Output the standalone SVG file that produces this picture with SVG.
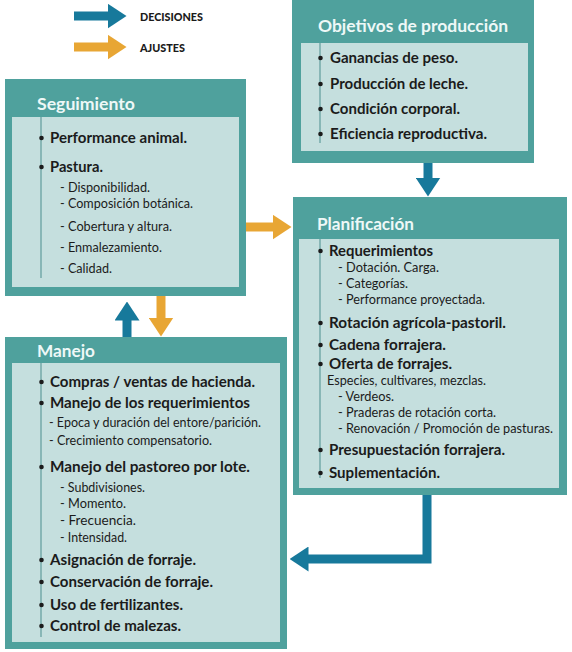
<svg xmlns="http://www.w3.org/2000/svg" width="572" height="652" viewBox="0 0 572 652">
<style>
.outer{fill:#4fa19d}
.inner{fill:#c5dfde}
.vl{stroke:#5f9c9b;stroke-width:1.2}
.hd{font-family:Lato,"Open Sans","Liberation Sans",sans-serif;font-weight:700;font-size:17.5px;fill:#eef8f7}
.b{font-family:Lato,"Open Sans","Liberation Sans",sans-serif;font-weight:700;font-size:14.8px;fill:#1b1b1b}
.s{font-family:Lato,"Open Sans","Liberation Sans",sans-serif;font-weight:400;font-size:13.2px;fill:#1b1b1b}
.lg{font-family:Lato,"Open Sans","Liberation Sans",sans-serif;font-weight:900;font-size:10.5px;fill:#1b1b1b}
.dot{fill:#1b1b1b}
.blue{stroke:#17799b;stroke-width:9;fill:none}
.orange{stroke:#e8a634;stroke-width:9;fill:none}
</style>
<defs>
<marker id="hb" markerUnits="userSpaceOnUse" markerWidth="19" markerHeight="25" viewBox="0 0 19 25" refX="0.5" refY="12.5" orient="auto"><path d="M0,0 L19,12.5 L0,25 z" fill="#17799b"/></marker>
<marker id="ho" markerUnits="userSpaceOnUse" markerWidth="19" markerHeight="25" viewBox="0 0 19 25" refX="0.5" refY="12.5" orient="auto"><path d="M0,0 L19,12.5 L0,25 z" fill="#e8a634"/></marker>
</defs>

<g id="legend">
<line class="blue" x1="74" y1="16" x2="108" y2="16" marker-end="url(#hb)"/>
<text class="lg" x="140" y="20.5" textLength="63" lengthAdjust="spacingAndGlyphs">DECISIONES</text>
<line class="orange" x1="74" y1="47" x2="108" y2="47" marker-end="url(#ho)"/>
<text class="lg" x="140" y="51.5" textLength="45" lengthAdjust="spacingAndGlyphs">AJUSTES</text>
</g>

<g id="connectors">
<line class="orange" x1="246" y1="227" x2="273" y2="227" marker-end="url(#ho)"/>
<line class="blue" x1="127" y1="337" x2="127" y2="320" marker-end="url(#hb)"/>
<line class="orange" x1="161" y1="295" x2="161" y2="318" marker-end="url(#ho)"/>
<line class="blue" x1="428" y1="163" x2="428" y2="178" marker-end="url(#hb)"/>
<path class="blue" d="M427,495 V559 H308" stroke-width="8.5" marker-end="url(#hb)"/>
</g>

<g id="seguimiento">
<rect class="outer" x="5" y="79" width="241" height="217"/>
<rect class="inner" x="12" y="117" width="227" height="170"/>
<line class="vl" x1="41" y1="117" x2="41" y2="278"/>
<text class="hd" x="37" y="110" textLength="98" lengthAdjust="spacingAndGlyphs">Seguimiento</text>
<circle class="dot" cx="41.5" cy="138" r="2.3"/>
<text class="b" x="50" y="143" textLength="137" lengthAdjust="spacingAndGlyphs">Performance animal.</text>
<circle class="dot" cx="41.5" cy="167" r="2.3"/>
<text class="b" x="50" y="172" textLength="53" lengthAdjust="spacingAndGlyphs">Pastura.</text>
<text class="s" x="60" y="192" textLength="90" lengthAdjust="spacingAndGlyphs">- Disponibilidad.</text>
<text class="s" x="60" y="208" textLength="133" lengthAdjust="spacingAndGlyphs">- Composición botánica.</text>
<text class="s" x="60" y="231" textLength="112" lengthAdjust="spacingAndGlyphs">- Cobertura y altura.</text>
<text class="s" x="60" y="252" textLength="102" lengthAdjust="spacingAndGlyphs">- Enmalezamiento.</text>
<text class="s" x="60" y="273" textLength="52" lengthAdjust="spacingAndGlyphs">- Calidad.</text>
</g>

<g id="objetivos">
<rect class="outer" x="292" y="0" width="242" height="163"/>
<rect class="inner" x="301" y="43" width="227" height="108"/>
<line class="vl" x1="320" y1="43" x2="320" y2="143"/>
<text class="hd" x="318" y="32" textLength="190" lengthAdjust="spacingAndGlyphs">Objetivos de producción</text>
<circle class="dot" cx="320.5" cy="58" r="2.3"/>
<text class="b" x="330" y="63" textLength="128" lengthAdjust="spacingAndGlyphs">Ganancias de peso.</text>
<circle class="dot" cx="320.5" cy="84" r="2.3"/>
<text class="b" x="330" y="89" textLength="138" lengthAdjust="spacingAndGlyphs">Producción de leche.</text>
<circle class="dot" cx="320.5" cy="109" r="2.3"/>
<text class="b" x="330" y="114" textLength="130" lengthAdjust="spacingAndGlyphs">Condición corporal.</text>
<circle class="dot" cx="320.5" cy="134" r="2.3"/>
<text class="b" x="330" y="139" textLength="157" lengthAdjust="spacingAndGlyphs">Eficiencia reproductiva.</text>
</g>

<g id="planificacion">
<rect class="outer" x="293" y="197" width="274" height="298"/>
<rect class="inner" x="299" y="239" width="260" height="249"/>
<line class="vl" x1="320" y1="239" x2="320" y2="478"/>
<text class="hd" x="317" y="230" textLength="97" lengthAdjust="spacingAndGlyphs">Planificación</text>
<circle class="dot" cx="320.5" cy="251" r="2.3"/>
<text class="b" x="329" y="256" textLength="104" lengthAdjust="spacingAndGlyphs">Requerimientos</text>
<text class="s" x="338" y="272" textLength="101" lengthAdjust="spacingAndGlyphs">- Dotación. Carga.</text>
<text class="s" x="338" y="288" textLength="70" lengthAdjust="spacingAndGlyphs">- Categorías.</text>
<text class="s" x="338" y="304" textLength="147" lengthAdjust="spacingAndGlyphs">- Performance proyectada.</text>
<circle class="dot" cx="320.5" cy="323" r="2.3"/>
<text class="b" x="329" y="328" textLength="177" lengthAdjust="spacingAndGlyphs">Rotación agrícola-pastoril.</text>
<circle class="dot" cx="320.5" cy="345" r="2.3"/>
<text class="b" x="329" y="350" textLength="117" lengthAdjust="spacingAndGlyphs">Cadena forrajera.</text>
<circle class="dot" cx="320.5" cy="364" r="2.3"/>
<text class="b" x="329" y="369" textLength="123" lengthAdjust="spacingAndGlyphs">Oferta de forrajes.</text>
<text class="s" x="327" y="385" textLength="159" lengthAdjust="spacingAndGlyphs">Especies, cultivares, mezclas.</text>
<text class="s" x="338" y="401" textLength="56" lengthAdjust="spacingAndGlyphs">- Verdeos.</text>
<text class="s" x="338" y="417" textLength="158" lengthAdjust="spacingAndGlyphs">- Praderas de rotación corta.</text>
<text class="s" x="338" y="433" textLength="215" lengthAdjust="spacingAndGlyphs">- Renovación / Promoción de pasturas.</text>
<circle class="dot" cx="320.5" cy="450" r="2.3"/>
<text class="b" x="329" y="455" textLength="176" lengthAdjust="spacingAndGlyphs">Presupuestación forrajera.</text>
<circle class="dot" cx="320.5" cy="473" r="2.3"/>
<text class="b" x="329" y="478" textLength="111" lengthAdjust="spacingAndGlyphs">Suplementación.</text>
</g>

<g id="manejo">
<rect class="outer" x="5" y="337" width="282" height="312"/>
<rect class="inner" x="12" y="363" width="268" height="279"/>
<line class="vl" x1="41" y1="363" x2="41" y2="637"/>
<text class="hd" x="37" y="357" textLength="58" lengthAdjust="spacingAndGlyphs">Manejo</text>
<circle class="dot" cx="41.5" cy="382" r="2.3"/>
<text class="b" x="50" y="387" textLength="205" lengthAdjust="spacingAndGlyphs">Compras / ventas de hacienda.</text>
<circle class="dot" cx="41.5" cy="403" r="2.3"/>
<text class="b" x="50" y="408" textLength="200" lengthAdjust="spacingAndGlyphs">Manejo de los requerimientos</text>
<text class="s" x="49" y="427" textLength="212" lengthAdjust="spacingAndGlyphs">- Epoca y duración del entore/parición.</text>
<text class="s" x="49" y="445" textLength="163" lengthAdjust="spacingAndGlyphs">- Crecimiento compensatorio.</text>
<circle class="dot" cx="41.5" cy="467" r="2.3"/>
<text class="b" x="50" y="472" textLength="200" lengthAdjust="spacingAndGlyphs">Manejo del pastoreo por lote.</text>
<text class="s" x="60" y="492" textLength="85" lengthAdjust="spacingAndGlyphs">- Subdivisiones.</text>
<text class="s" x="60" y="508" textLength="66" lengthAdjust="spacingAndGlyphs">- Momento.</text>
<text class="s" x="60" y="525" textLength="76" lengthAdjust="spacingAndGlyphs">- Frecuencia.</text>
<text class="s" x="60" y="542" textLength="67" lengthAdjust="spacingAndGlyphs">- Intensidad.</text>
<circle class="dot" cx="41.5" cy="560" r="2.3"/>
<text class="b" x="50" y="565" textLength="146" lengthAdjust="spacingAndGlyphs">Asignación de forraje.</text>
<circle class="dot" cx="41.5" cy="582" r="2.3"/>
<text class="b" x="50" y="587" textLength="163" lengthAdjust="spacingAndGlyphs">Conservación de forraje.</text>
<circle class="dot" cx="41.5" cy="605" r="2.3"/>
<text class="b" x="50" y="610" textLength="133" lengthAdjust="spacingAndGlyphs">Uso de fertilizantes.</text>
<circle class="dot" cx="41.5" cy="626" r="2.3"/>
<text class="b" x="50" y="631" textLength="131" lengthAdjust="spacingAndGlyphs">Control de malezas.</text>
</g>
</svg>
